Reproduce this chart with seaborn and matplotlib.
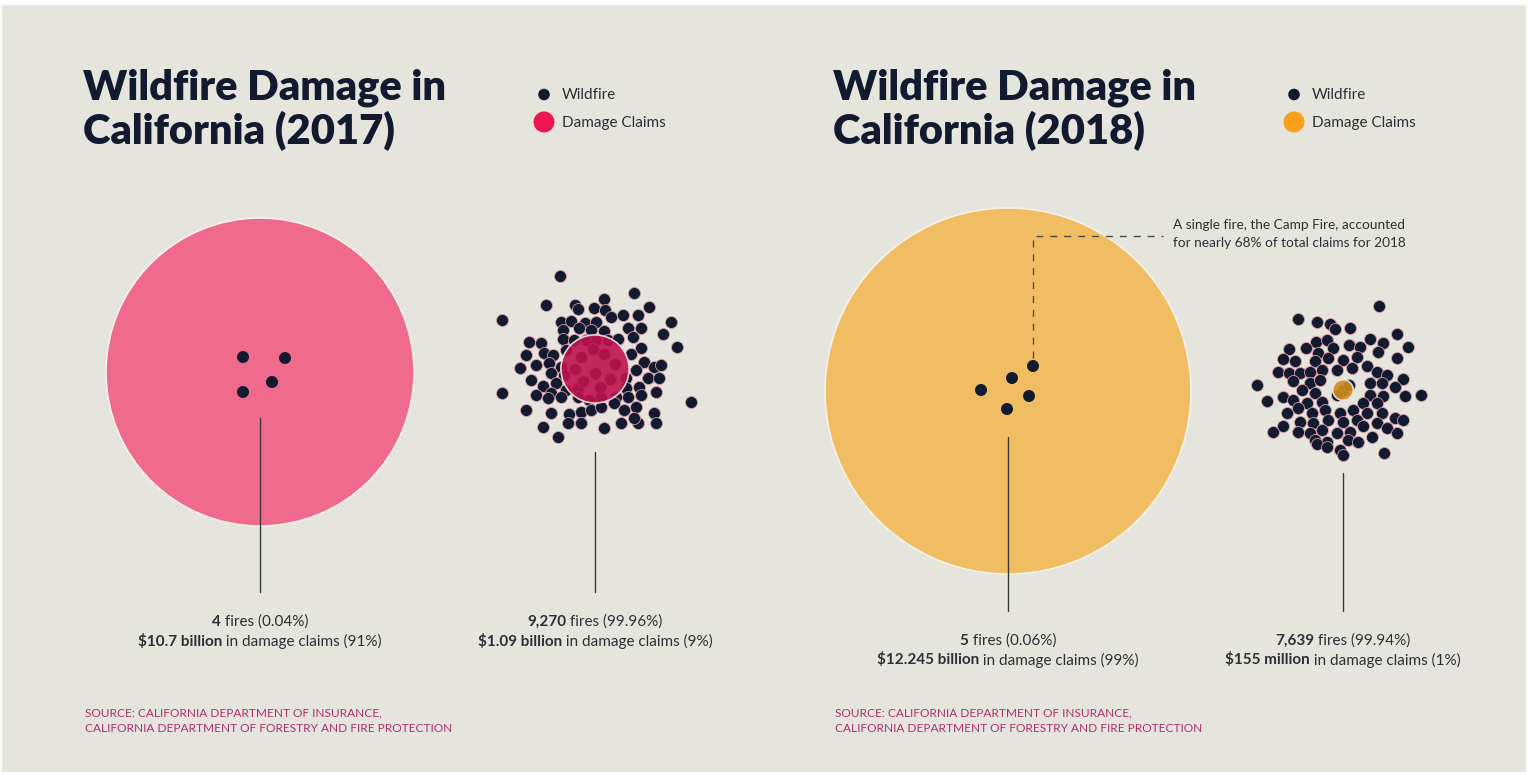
import matplotlib
matplotlib.use("Agg")
import matplotlib.pyplot as plt
from matplotlib.patches import Circle, Rectangle
import seaborn as sns
import pandas as pd

sns.set_theme(style="white")
plt.rcParams["font.family"] = ["Lato", "DejaVu Sans"]

# ---- data -------------------------------------------------------------
years = ["2017", "2018"]
big_fire_counts = [4, 5]
big_fire_share = ["0.04%", "0.06%"]
big_claims_billion = [10.7, 12.245]
big_claims_share = ["91%", "99%"]
other_fire_counts = [9270, 7639]
other_fire_share = ["99.96%", "99.94%"]
other_claims_billion = [1.09, 0.155]
other_claims_share = ["9%", "1%"]
camp_fire_note = ["A single fire, the Camp Fire, accounted",
                  "for nearly 68% of total claims for 2018"]
source_lines = ["SOURCE: CALIFORNIA DEPARTMENT OF INSURANCE,",
                "CALIFORNIA DEPARTMENT OF FORESTRY AND FIRE PROTECTION"]

# individual large fires (offsets from the centre of their claims circle)
big_fire_dots_2017 = [(-17, -15), (25, -14), (12, 10), (-17, 20)]
big_fire_dots_2018 = [(25, -25), (4, -13), (-27, -1), (21, 5), (-1, 18)]

# swarm of the remaining fires (offsets from the swarm centre)
swarm_2017 = [
    (-35, -93), (39, -76), (-49, -64), (-20, -64), (9, -70), (-17, -60), (-1, -61),
    (10, -59), (54, -62), (-93, -49), (-34, -47), (-24, -48), (-10, -46), (1, -47),
    (16, -52), (28, -54), (43, -54), (76, -47), (-32, -39), (-16, -41), (-4, -39),
    (9, -38), (33, -41), (46, -41), (68, -35), (-66, -27), (-54, -26), (-32, -30),
    (-21, -29), (-9, -29), (1, -29), (13, -29), (23, -30), (38, -32), (82, -22),
    (-69, -14), (-51, -16), (-42, -14), (-29, -19), (46, -21), (36, -15), (-75, -1),
    (-59, -4), (-46, -6), (-34, -2), (49, -7), (59, -2), (66, -4), (41, 1), (-44, 4),
    (-31, 6), (-64, 11), (-52, 17), (-39, 14), (31, 9), (53, 9), (64, 9), (-93, 24),
    (-59, 26), (-44, 24), (-29, 21), (-17, 19), (31, 19), (44, 18), (61, 23), (96, 33),
    (-47, 29), (-34, 28), (-17, 28), (-6, 31), (6, 28), (21, 28), (33, 28), (46, 26),
    (-69, 41), (-44, 44), (-26, 45), (-14, 43), (-4, 41), (6, 38), (19, 34), (29, 41),
    (41, 38), (59, 44), (-52, 58), (-37, 68), (-27, 54), (-14, 54), (9, 59), (26, 54),
    (43, 54), (61, 54), (39, 49), (-14, -12), (9, -15), (0, 4), (-12, 12), (15, 10),
    (20, -5), (-20, 0), (-2, -20), (5, 18),
]
swarm_2018 = [
    (36, -84), (-45, -71), (-26, -68), (-13, -66), (-8, -61), (7, -62), (54, -56),
    (-27, -48), (-16, -50), (6, -45), (27, -51), (40, -47), (65, -43), (-54, -41),
    (-37, -42), (-25, -37), (-10, -42), (17, -43), (35, -38), (-60, -31), (-48, -29),
    (-28, -29), (-15, -32), (0, -30), (14, -33), (24, -24), (54, -32), (-65, -18),
    (-54, -17), (-43, -17), (-33, -18), (-21, -20), (-6, -20), (9, -22), (34, -18),
    (44, -15), (60, -11), (-86, -5), (-50, -9), (-33, -7), (-23, -10), (27, -7),
    (39, -7), (52, -3), (-60, 7), (-41, 0), (-28, 3), (27, 5), (40, 6), (62, 6),
    (78, 5), (-76, 11), (-50, 10), (-36, 13), (-21, 12), (20, 13), (34, 13),
    (-56, 23), (-45, 18), (-31, 23), (-18, 20), (-3, 23), (10, 20), (24, 23), (39, 23),
    (52, 28), (60, 30), (-60, 36), (-43, 32), (-30, 33), (-15, 30), (0, 32), (14, 30),
    (34, 33), (-70, 42), (-45, 42), (-33, 43), (-21, 40), (-6, 43), (7, 42), (20, 36),
    (44, 38), (54, 43), (-28, 50), (-16, 52), (5, 50), (15, 52), (29, 47), (-26, 54),
    (-3, 60), (0, 65), (41, 63), (-16, 57), (0, 0), (-6, 5), (6, -5),
]

# ---- styling ----------------------------------------------------------
BG = "#e6e5dd"
NAVY = "#111a2e"
TEXT = "#2e2f35"
big_fill = ["#ef6a8c", "#f1bd63"]
small_fill = ["#c0124e", "#cf8d1c"]
legend_fill = ["#ee1753", "#f7a01a"]
SOURCE_COLOR = "#a8306c"

panel_x = [83, 833]                  # left edge of each panel's title
big_centre = [(260, 372), (1008, 391)]
swarm_centre = [(595, 369), (1343, 390)]
big_radius = [154, 183]
label_y = [(622, 641), (641, 660)]
DOT_R = 6.0                          # dot radius in px
DOT_S = (2 * DOT_R * 72 / 100) ** 2  # scatter size in pt^2

W, H = 1533, 775
fig = plt.figure(figsize=(W / 100, H / 100), dpi=100, facecolor="white")
ax = fig.add_axes([0, 0, 1, 1])
ax.set_xlim(0, W)
ax.set_ylim(H, 0)
ax.set_aspect("equal")
ax.axis("off")
ax.add_patch(Rectangle((2, 5), 1524, 767, facecolor=BG, edgecolor="none", zorder=0))

renderer = fig.canvas.get_renderer()


def rich_line(xc, y, parts, size, color):
    """Centre a line made of (text, weight) pieces on xc."""
    items = []
    for s, w in parts:
        t = ax.text(0, y, s, fontsize=size, fontweight=w, color=color,
                    ha="left", va="center", zorder=6)
        items.append((t, t.get_window_extent(renderer).width))
    x = xc - sum(w for _, w in items) / 2
    for t, w in items:
        t.set_x(x)
        x += w


def money(b):
    return f"${b * 1000:g} million" if b < 1 else f"${b:g} billion"


for i, yr in enumerate(years):
    px = panel_x[i]
    # title
    ax.text(px, 88, "Wildfire Damage in", fontsize=30, fontweight="heavy",
            color=NAVY, ha="left", va="center")
    ax.text(px, 131, f"California ({yr})", fontsize=30, fontweight="heavy",
            color=NAVY, ha="left", va="center")

    # legend
    lx = px + 461
    ax.add_patch(Circle((lx, 94.5), 5.8, facecolor=NAVY, edgecolor="none", zorder=5))
    ax.add_patch(Circle((lx, 122), 10.5, facecolor=legend_fill[i], edgecolor="none", zorder=5))
    ax.text(lx + 18, 95, "Wildfire", fontsize=11, color=TEXT, va="center")
    ax.text(lx + 18, 123, "Damage Claims", fontsize=11, color=TEXT, va="center")

    # claims circles, radius from the claims value
    bx, by = big_centre[i]
    sx, sy = swarm_centre[i]
    R = big_radius[i]
    r_small = R * (other_claims_billion[i] / big_claims_billion[i]) ** 0.66

    ax.add_patch(Circle((bx, by), R, facecolor=big_fill[i], edgecolor="#f6f1ea",
                        linewidth=1.2, zorder=1))

    big_dots = big_fire_dots_2017 if i == 0 else big_fire_dots_2018
    swarm = swarm_2017 if i == 0 else swarm_2018
    df_big = pd.DataFrame({"x": [bx + dx for dx, _ in big_dots],
                           "y": [by + dy for _, dy in big_dots]})
    df_sw = pd.DataFrame({"x": [sx + dx for dx, _ in swarm],
                          "y": [sy + dy for _, dy in swarm]})
    sns.scatterplot(data=df_big, x="x", y="y", ax=ax, s=DOT_S, color=NAVY,
                    edgecolor="none", linewidth=0, zorder=3, legend=False)
    sns.scatterplot(data=df_sw, x="x", y="y", ax=ax, s=DOT_S, color=NAVY,
                    edgecolor="#d79aa5", linewidth=0.6, zorder=3, legend=False)
    ax.add_patch(Circle((sx, sy), r_small, facecolor=small_fill[i], edgecolor="#f3e6e6",
                        linewidth=1.2, alpha=0.9, zorder=4))

    # leader lines
    ly1, ly2 = label_y[i]
    ax.plot([bx, bx], [by + 46, ly1 - 30], color="#3a3a3a", lw=1, zorder=2)
    ax.plot([sx, sx], [sy + 83, ly1 - 30], color="#3a3a3a", lw=1, zorder=2)

    # value labels
    fs = 11
    rich_line(bx, ly1, [(f"{big_fire_counts[i]:,}", "bold"),
                        (f" fires ({big_fire_share[i]})", "normal")], fs, TEXT)
    rich_line(bx, ly2, [(money(big_claims_billion[i]), "bold"),
                        (f" in damage claims ({big_claims_share[i]})", "normal")], fs, TEXT)
    rich_line(sx, ly1, [(f"{other_fire_counts[i]:,}", "bold"),
                        (f" fires ({other_fire_share[i]})", "normal")], fs, TEXT)
    rich_line(sx, ly2, [(money(other_claims_billion[i]), "bold"),
                        (f" in damage claims ({other_claims_share[i]})", "normal")], fs, TEXT)

    # source
    for k, line in enumerate(source_lines):
        ax.text(px + 2, 713 + 15 * k, line, fontsize=8.6, color=SOURCE_COLOR,
                ha="left", va="center")

# Camp Fire callout
cx, cy = big_centre[1]
fx, fy = cx + big_fire_dots_2018[0][0], cy + big_fire_dots_2018[0][1]
ax.plot([fx, fx, fx + 130], [fy - 8, 236, 236], color="#4a4a4a", lw=1,
        dashes=(5, 5), zorder=5)
ax.text(1173, 225, camp_fire_note[0], fontsize=9.8, color=TEXT, va="center")
ax.text(1173, 243, camp_fire_note[1], fontsize=9.8, color=TEXT, va="center")

fig.savefig("out.png", dpi=100, facecolor="white")
